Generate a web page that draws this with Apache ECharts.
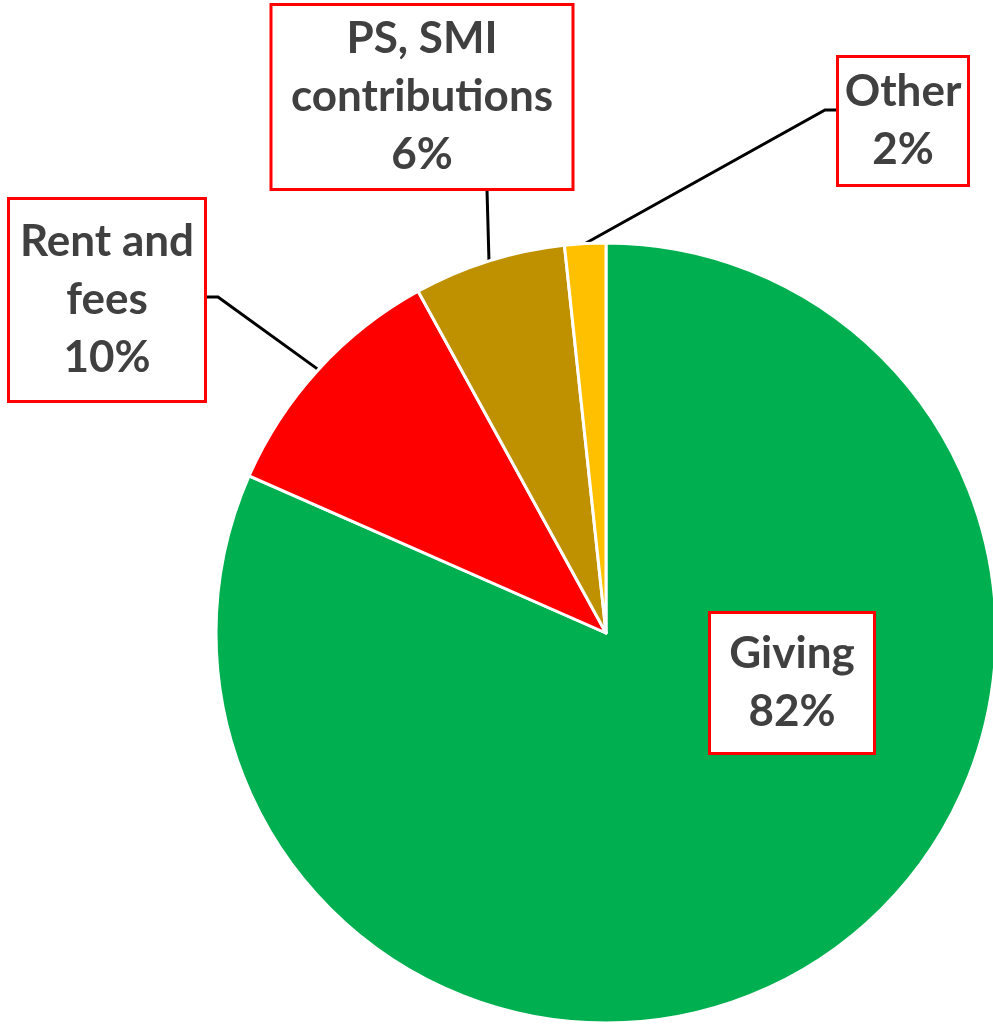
<!DOCTYPE html>
<html>
<head>
<meta charset="utf-8">
<script src="https://cdn.jsdelivr.net/npm/echarts@6/dist/echarts.min.js"></script>
<style>
  html, body { margin: 0; padding: 0; background: #fff; }
  #main { width: 993px; height: 1026px; }
</style>
</head>
<body>
<div id="main"></div>
<script>
// slices, clockwise from 12 o'clock
var names = ['Giving', 'Rent and\nfees', 'PS, SMI\ncontributions', 'Other'];
var values = [81.6, 10.4, 6.3, 1.7];
var colors = ['#00B050', '#FF0000', '#BF9000', '#FFC000'];

// label boxes: centre x, centre y, width, vertical padding
var boxes = [
  [792, 683, 162, 11],
  [107, 300, 194, 13],
  [422, 97, 299, 4],
  [903, 121, 128, 5]
];
// elbow of the leader line, next to the label box
var elbows = [null, [[218, 297], [207, 297]], [[487, 190], [487, 190]], [[825, 110], [836, 110]]];

var myChart = echarts.init(document.getElementById('main'));

var data = names.map(function (n, i) {
  return {
    name: n,
    value: values[i],
    itemStyle: { color: colors[i] },
    label: {
      width: boxes[i][2],
      padding: [boxes[i][3], 0],
      position: i === 0 ? 'inside' : 'outside'
    },
    labelLine: { show: i !== 0 }
  };
});

var option = {
  animation: false,
  series: [{
    type: 'pie',
    center: [606, 633],
    radius: 390,
    startAngle: 90,
    clockwise: true,
    data: data,
    itemStyle: { borderColor: '#fff', borderWidth: 3 },
    label: {
      formatter: function (p) { return p.name + '\n' + Math.round(p.percent) + '%'; },
      fontFamily: 'Lato',
      fontWeight: 'bold',
      fontSize: 44,
      lineHeight: 58,
      color: '#404040',
      align: 'center',
      backgroundColor: '#fff',
      borderColor: '#FF0000',
      borderWidth: 3
    },
    labelLine: {
      lineStyle: { color: '#000', width: 3 }
    },
    labelLayout: function (params) {
      var i = params.dataIndex;
      var out = {
        x: boxes[i][0],
        y: boxes[i][1],
        align: 'center',
        verticalAlign: 'middle'
      };
      if (elbows[i] && params.labelLinePoints) {
        out.labelLinePoints = [params.labelLinePoints[0], elbows[i][0], elbows[i][1]];
      }
      return out;
    }
  }]
};

myChart.setOption(option);
</script>
</body>
</html>
